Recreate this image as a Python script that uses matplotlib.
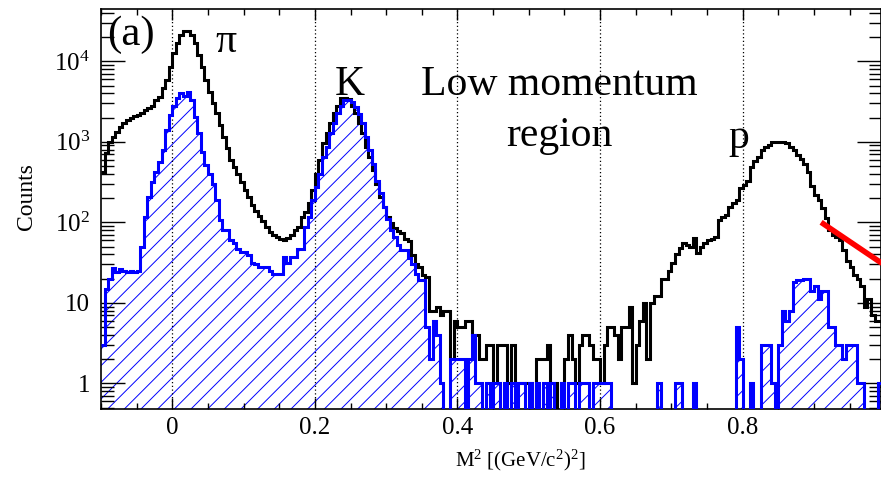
import numpy as np
import matplotlib
matplotlib.use("Agg")
import matplotlib.pyplot as plt
from matplotlib.ticker import FixedLocator, LogLocator, MultipleLocator, NullFormatter

plt.rcParams['font.family'] = ['Liberation Serif', 'DejaVu Serif']
plt.rcParams['mathtext.fontset'] = 'custom'
plt.rcParams['mathtext.rm'] = 'Liberation Serif'
plt.rcParams['mathtext.it'] = 'Liberation Serif:italic'
plt.rcParams['hatch.linewidth'] = 0.7
plt.rcParams['hatch.color'] = 'blue'

# histogram binning, M^2 in (GeV/c^2)^2
bin_lo = -0.1
bin_hi = 1.0
bin_w = 0.005

# all tracks (black), one row = 0.05 in M^2
all_counts = [
    420, 730, 1000, 1150, 1330, 1530, 1700, 1850, 2000, 2100,        # -0.10
    2150, 2270, 2500, 2640, 2800, 3300, 3600, 4600, 5800, 8500,      # -0.05
    12500, 17000, 21000, 23500, 23500, 21000, 17000, 12000, 8500, 5800,  # 0.00
    4200, 3000, 2250, 1600, 1150, 830, 600, 490, 400, 320,           # 0.05
    250, 205, 165, 140, 120, 105, 88, 76, 70, 66,                    # 0.10
    62, 60, 63, 70, 80, 88, 117, 135, 172, 250,                      # 0.15
    400, 590, 960, 1270, 1700, 2300, 2750, 3500, 3500, 3400,         # 0.20
    2750, 2300, 1700, 1270, 870, 650, 450, 300, 205, 155,            # 0.25
    117, 97, 85, 78, 73, 62, 58, 39, 30, 28,                         # 0.30
    22, 21, 8, 8, 9, 7, 8, 8, 2, 6,                                  # 0.35
    5, 5, 6, 6, 4, 4, 2, 2, 3, 3,                                    # 0.40
    1, 3, 3, 3, 1, 3, 1, 1, 1, 1,                                    # 0.45
    1, 0, 2, 2, 2, 3, 1, 1, 0, 1,                                    # 0.50
    2, 4, 2, 1, 3, 4, 4, 3, 2, 2,                                    # 0.55
    1, 3, 5, 5, 4, 2, 5, 5, 9, 1,                                    # 0.60
    3, 6, 10, 2, 10, 12, 12, 20, 20, 25,                             # 0.65
    31, 40, 48, 55, 52, 50, 63, 42, 50, 55,                          # 0.70
    60, 62, 66, 107, 115, 124, 155, 175, 190, 265,                   # 0.75
    290, 330, 480, 580, 640, 790, 870, 920, 1000, 1000,              # 0.80
    1000, 1000, 980, 870, 790, 690, 620, 530, 420, 280,              # 0.85
    220, 190, 150, 112, 80, 70, 66, 60, 45, 33,                      # 0.90
    28, 22, 20, 16, 9, 11, 7, 6, 6, 5,                               # 0.95
]

# selected tracks (blue, hatched)
sel_counts = [
    3, 15, 20, 27, 24, 26, 25, 24, 25, 24,                           # -0.10
    25, 50, 117, 205, 320, 420, 560, 790, 1400, 2150,                # -0.05
    2800, 3500, 4000, 3700, 4200, 3300, 2050, 1270, 750, 510,        # 0.00
    400, 300, 190, 107, 80, 80, 60, 55, 47, 43,                      # 0.05
    43, 39, 31, 30, 28, 28, 28, 25, 23, 23,                          # 0.10
    23, 37, 31, 37, 37, 47, 47, 88, 117, 190,                        # 0.15
    275, 400, 650, 870, 1270, 1700, 2300, 2750, 3300, 3300,          # 0.20
    3100, 2700, 2200, 1700, 1150, 790, 530, 330, 230, 155,           # 0.25
    110, 80, 66, 52, 45, 45, 36, 30, 23, 19,                         # 0.30
    19, 5, 2, 6, 4, 1, 0, 0, 2, 2,                                   # 0.35
    2, 2, 0, 2, 4, 1, 1, 0, 1, 0,                                    # 0.40
    1, 1, 0, 1, 0, 1, 0, 1, 1, 0,                                    # 0.45
    1, 0, 1, 0, 1, 0, 1, 0, 0, 1,                                    # 0.50
    0, 1, 1, 0, 1, 1, 1, 0, 1, 1,                                    # 0.55
    1, 1, 1, 0, 0, 0, 0, 0, 0, 0,                                    # 0.60
    0, 0, 0, 0, 0, 0, 1, 0, 0, 0,                                    # 0.65
    0, 1, 1, 0, 0, 0, 1, 0, 0, 0,                                    # 0.70
    0, 0, 0, 0, 0, 0, 0, 0, 5, 2,                                    # 0.75
    0, 0, 1, 0, 0, 3, 3, 3, 1, 0,                                    # 0.80
    3, 8, 6, 8, 18, 19, 19, 20, 20, 14,                              # 0.85
    16, 11, 14, 14, 5, 5, 3, 3, 2, 3,                                # 0.90
    3, 3, 1, 1, 0, 0, 0, 0, 1, 1,                                    # 0.95
]

# dotted guide lines and red cut line
guide_x = [0.0, 0.2, 0.4, 0.6, 0.8]
cut_x = [0.91, 1.0]
cut_y = [100, 29]

xtick_vals = [0, 0.2, 0.4, 0.6, 0.8]
xtick_labels = ['0', '0.2', '0.4', '0.6', '0.8']
ytick_vals = [1, 10, 100, 1000, 10000]
ytick_labels = ['1', '10', r'$\mathregular{10^{2}}$', r'$\mathregular{10^{3}}$', r'$\mathregular{10^{4}}$']

edges = np.round(np.arange(bin_lo, bin_hi + bin_w / 2, bin_w), 4)
floor = 0.1  # empty bins go below the axis, like ROOT
all_plot = np.where(np.array(all_counts) > 0, all_counts, floor)
sel_plot = np.where(np.array(sel_counts) > 0, sel_counts, floor)

fig = plt.figure(figsize=(8.81, 4.80), dpi=100)
ax = fig.add_axes([101 / 881, 71 / 480, 780 / 881, 400 / 480])

# hatched area of the selected histogram
ax.stairs(sel_plot, edges, baseline=floor, fill=True, facecolor='none',
          edgecolor='blue', linewidth=0, hatch='//', zorder=1)

for gx in guide_x:
    ax.axvline(gx, color='black', lw=0.9, ls=(0, (1, 2)), zorder=1.5)

ax.stairs(all_plot, edges, baseline=None, color='black', lw=2.2, zorder=2)
ax.stairs(sel_plot, edges, baseline=None, color='blue', lw=2.2, zorder=3)
ax.plot(cut_x, cut_y, color='red', lw=4, solid_capstyle='butt', zorder=4)

ax.set_yscale('log')
ax.set_xlim(-0.1, 0.994)
ax.set_ylim(0.48, 4.46e4)

ax.set_xticks(xtick_vals, xtick_labels)
ax.xaxis.set_minor_locator(MultipleLocator(0.05))
ax.yaxis.set_major_locator(FixedLocator(ytick_vals))
ax.set_yticklabels(ytick_labels)
ax.yaxis.set_minor_locator(LogLocator(base=10, subs=np.arange(2, 10), numticks=20))
ax.yaxis.set_minor_formatter(NullFormatter())

ax.tick_params(which='both', direction='in', top=True, right=True, width=1, labelsize=18)
ax.tick_params(axis='x', which='major', length=8, pad=6)
ax.tick_params(axis='x', which='minor', length=4.5)
ax.tick_params(axis='y', which='major', length=17, pad=8)
ax.tick_params(axis='y', which='minor', length=9)
for s in ax.spines.values():
    s.set_linewidth(1.2)

ax.set_ylabel('Counts', fontsize=17)
ax.yaxis.set_label_coords(-0.082, 0.53)
ax.set_xlabel(r'M$^{2}$ [(GeV/c$^{2}$)$^{2}$]', fontsize=15)
ax.xaxis.set_label_coords(0.538, -0.097)

ax.text(0.008, 0.91, '(a)', transform=ax.transAxes, fontsize=31, ha='left', va='baseline')
ax.text(0.160, 0.8925, 'π', transform=ax.transAxes, fontsize=30, ha='center', va='baseline')
ax.text(0.3186, 0.785, 'K', transform=ax.transAxes, fontsize=30, ha='center', va='baseline')
ax.text(0.587, 0.785, 'Low momentum', transform=ax.transAxes, fontsize=30, ha='center', va='baseline')
ax.text(0.587, 0.6575, 'region', transform=ax.transAxes, fontsize=30, ha='center', va='baseline')
ax.text(0.818, 0.6525, 'p', transform=ax.transAxes, fontsize=30, ha='center', va='baseline')

fig.savefig('out.png', dpi=100)
